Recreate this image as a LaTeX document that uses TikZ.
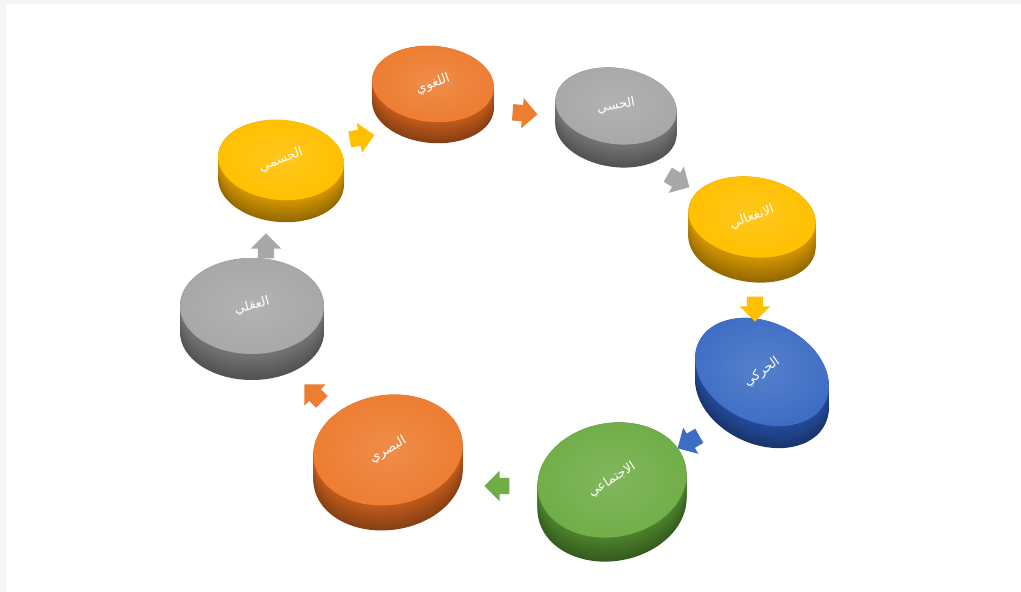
\documentclass[tikz,border=0pt]{standalone}
\usepackage{fontspec}
\newfontfamily\arabicfont[Script=Arabic]{DejaVu Sans}
\TeXXeTstate=1
\usetikzlibrary{shapes.geometric,shapes.arrows}
\definecolor{orT}{RGB}{237,125,49}\definecolor{orS}{RGB}{196,92,28}
\definecolor{grT}{RGB}{168,168,168}\definecolor{grS}{RGB}{118,118,118}
\definecolor{yeT}{RGB}{255,192,0}\definecolor{yeS}{RGB}{214,152,0}
\definecolor{blT}{RGB}{62,110,196}\definecolor{blS}{RGB}{36,76,156}
\definecolor{gnT}{RGB}{112,173,71}\definecolor{gnS}{RGB}{76,132,44}
\tikzset{
  disctop/.style={ellipse, inner sep=0pt, outer sep=0pt, text=white},
  blockarrow/.style={single arrow, inner xsep=0pt, inner ysep=8pt, minimum height=25pt,
    minimum width=0pt, single arrow head extend=7pt}
}
% #1 name, #2 centre, #3 rx, #4 ry, #5 thickness, #6 tilt, #7 colour, #8 text tilt, #9 text
\newcommand\mydisc[9]{%
  \foreach \kk in {0,...,12}{%
    \pgfmathsetmacro\dd{#5*(12-\kk)/12}%
    \pgfmathtruncatemacro\mixv{70+\kk*30/12}%
    \fill[#7S!\mixv!black, shift={#2}, shift={(0,\dd)}, rotate=#6] (0,0) ellipse [x radius=#3, y radius=#4];
  }%
  \node[disctop, inner color=#7T!88!white, outer color=#7T, minimum width=2*#3, minimum height=2*#4, rotate=#6] (#1) at #2
    {\rotatebox{#8}{\arabicfont\fontsize{13}{15}\selectfont\beginR #9\endR}};
}
\begin{document}
\begin{tikzpicture}[x=1pt,y=-1pt]
\useasboundingbox (0,0) rectangle (1021,592);
\fill[gray!8] (0,0) rectangle (1021,592);
\fill[white] (6,4) rectangle (1021,592);

\mydisc{d8}{(252,306)}{72}{48}{26}{0}{gr}{15}{العقلي}
\mydisc{d1}{(281,160)}{63}{40}{22}{-5}{ye}{25}{الجسمي}
\mydisc{d2}{(433,84)}{61}{38}{21}{-5}{or}{25}{اللغوي}
\mydisc{d3}{(616,106)}{61}{38}{23}{-8}{gr}{18}{الحسي}
\mydisc{d4}{(752,217)}{64}{40}{25}{-8}{ye}{28}{الانفعالي}
\mydisc{d5}{(762,372)}{70}{50}{22}{-25}{bl}{60}{الحركي}
\mydisc{d6}{(612,480)}{75}{57}{24}{10}{gn}{22}{الاجتماعي}
\mydisc{d7}{(388,450)}{75}{55}{25}{8}{or}{22}{البصري}

\node[blockarrow, fill=yeT, rotate=10]   (a1) at (358,138) {};
\node[blockarrow, fill=orT, rotate=-5]   (a2) at (521,113) {};
\node[blockarrow, fill=grT, rotate=-30]  (a3) at (675,179) {};
\node[blockarrow, fill=yeT, rotate=-90]  (a4) at (755,305) {};
\node[blockarrow, fill=blT, rotate=-150] (a5) at (692,440) {};
\node[blockarrow, fill=gnT, rotate=180]  (a6) at (501,486) {};
\node[blockarrow, fill=orT, rotate=135]  (a7) at (316,396) {};
\node[blockarrow, fill=grT, rotate=90]   (a8) at (266,250) {};
\end{tikzpicture}
\end{document}
